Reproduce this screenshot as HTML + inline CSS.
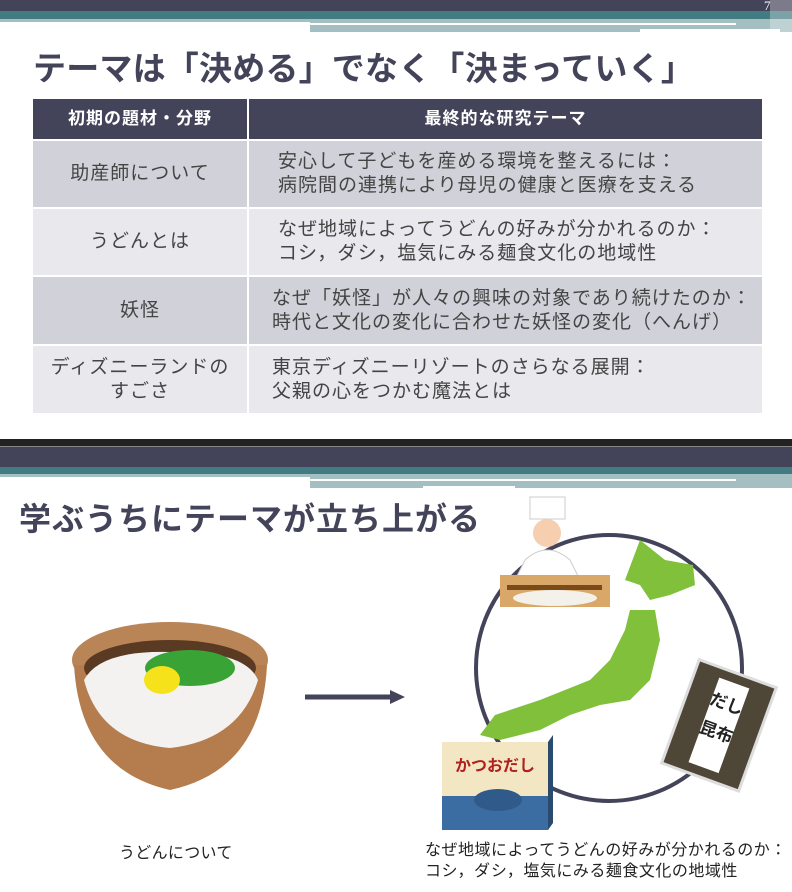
<!DOCTYPE html>
<html><head><meta charset="utf-8"><style>
body{margin:0;width:792px;height:892px;position:relative;overflow:hidden;background:#fff;font-family:"Liberation Sans","Noto Sans CJK JP",sans-serif;}
.a{position:absolute}
.t{color:#43435a;font-weight:bold;font-size:33px;letter-spacing:1px}
.c{position:absolute;display:flex;align-items:center;color:#444;font-size:19px;line-height:24px;letter-spacing:1px}
</style></head><body>
<!-- top header -->
<div class="a" style="left:0;top:0;width:792px;height:11px;background:#43435a"></div>
<div class="a" style="left:0;top:11px;width:792px;height:8px;background:#427b81"></div>
<div class="a" style="left:0;top:19px;width:792px;height:3px;background:#a3bfc2"></div>
<div class="a" style="left:310px;top:19px;width:482px;height:13px;background:#a3bfc2"></div>
<div class="a" style="left:310px;top:23px;width:426px;height:2px;background:#fff"></div>
<div class="a" style="left:640px;top:29px;width:140px;height:5px;background:#fff"></div>
<div class="a" style="left:770px;top:0;width:22px;height:32px;background:rgba(255,255,255,.3)"></div>
<div class="a" style="left:764px;top:-2px;color:#fff;font-family:'Liberation Serif',serif;font-size:13px">7</div>
<div class="a t" style="left:33px;top:42px;letter-spacing:0.2px">テーマは「決める」でなく「決まっていく」</div>
<!-- table -->
<div class="a" style="left:33px;top:99px;width:729px;height:40px;background:#43435a"></div>
<div class="c" style="left:33px;top:99px;width:214px;height:40px;justify-content:center;color:#fff;font-weight:bold;font-size:17px">初期の題材・分野</div>
<div class="c" style="left:249px;top:99px;width:513px;height:40px;justify-content:center;color:#fff;font-weight:bold;font-size:17px">最終的な研究テーマ</div>
<div class="a" style="left:33px;top:141px;width:729px;height:66px;background:#d1d1d9"></div>
<div class="a" style="left:33px;top:209px;width:729px;height:66px;background:#e8e8ed"></div>
<div class="a" style="left:33px;top:277px;width:729px;height:67px;background:#d1d1d9"></div>
<div class="a" style="left:33px;top:346px;width:729px;height:67px;background:#e8e8ed"></div>
<div class="a" style="left:247px;top:99px;width:2px;height:314px;background:#fff"></div>
<div class="c" style="left:33px;top:141px;width:214px;height:66px;justify-content:center">助産師について</div>
<div class="c" style="left:278px;top:141px;height:66px">安心して子どもを産める環境を整えるには：<br>病院間の連携により母児の健康と医療を支える</div>
<div class="c" style="left:33px;top:209px;width:214px;height:66px;justify-content:center">うどんとは</div>
<div class="c" style="left:278px;top:209px;height:66px">なぜ地域によってうどんの好みが分かれるのか：<br>コシ，ダシ，塩気にみる麺食文化の地域性</div>
<div class="c" style="left:33px;top:277px;width:214px;height:67px;justify-content:center">妖怪</div>
<div class="c" style="left:272px;top:277px;height:67px">なぜ「妖怪」が人々の興味の対象であり続けたのか：<br>時代と文化の変化に合わせた妖怪の変化（へんげ）</div>
<div class="c" style="left:33px;top:346px;width:214px;height:67px;justify-content:center;text-align:center">ディズニーランドの<br>すごさ</div>
<div class="c" style="left:272px;top:346px;height:67px">東京ディズニーリゾートのさらなる展開：<br>父親の心をつかむ魔法とは</div>
<!-- second slide -->
<div class="a" style="left:0;top:439px;width:792px;height:7px;background:#222"></div>
<div class="a" style="left:0;top:446px;width:792px;height:1px;background:#888"></div>
<div class="a" style="left:0;top:447px;width:792px;height:20px;background:#43435a"></div>
<div class="a" style="left:0;top:467px;width:792px;height:7px;background:#427b81"></div>
<div class="a" style="left:0;top:474px;width:792px;height:3px;background:#a3bfc2"></div>
<div class="a" style="left:310px;top:474px;width:482px;height:14px;background:#a3bfc2"></div>
<div class="a" style="left:310px;top:479px;width:426px;height:2px;background:#fff"></div>
<div class="a" style="left:423px;top:486px;width:92px;height:5px;background:#fff"></div>
<div class="a t" style="left:19px;top:494px;font-size:32px">学ぶうちにテーマが立ち上がる</div>
<svg class="a" style="left:0;top:0" width="792" height="892">
<circle cx="609" cy="668" r="133" fill="none" stroke="#43435a" stroke-width="4"/>
<path d="M640 540 L665 560 L693 565 L695 585 L670 595 L650 600 L640 585 L625 580 Z" fill="#80c03a"/>
<path d="M630 610 L655 610 L660 640 L650 680 L630 700 L600 705 L570 715 L540 730 L500 740 L480 735 L495 715 L540 700 L590 680 L610 660 L625 630 Z" fill="#80c03a"/>
<rect x="530" y="497" width="35" height="22" fill="#fff" stroke="#ccc"/>
<circle cx="547" cy="533" r="14" fill="#f6cfb0"/>
<path d="M525 560 Q547 540 570 560 L580 580 L515 580 Z" fill="#fff" stroke="#ccc"/>
<rect x="500" y="575" width="110" height="32" fill="#d9a868"/>
<ellipse cx="555" cy="598" rx="42" ry="8" fill="#f4f0ea"/>
<rect x="507" y="585" width="95" height="5" fill="#7a4a1a"/>
<g transform="rotate(20 718 725)">
<rect x="678" y="670" width="82" height="110" fill="#4e4636" stroke="#ddd" stroke-width="3"/>
<rect x="703" y="680" width="32" height="90" fill="#fff"/>
<text x="719" y="708" font-size="17" font-weight="bold" text-anchor="middle" fill="#222" font-family="Noto Sans CJK JP">だし</text>
<text x="719" y="738" font-size="17" font-weight="bold" text-anchor="middle" fill="#222" font-family="Noto Sans CJK JP">昆布</text>
</g>
<path d="M442 742 L548 742 L553 735 L553 823 L548 830 L442 830 Z" fill="#2a4a6e"/>
<rect x="442" y="742" width="106" height="88" fill="#f3e6c2"/>
<rect x="442" y="796" width="106" height="34" fill="#3b6da3"/>
<text x="495" y="771" font-size="16" font-weight="bold" text-anchor="middle" fill="#b02020" font-family="Noto Sans CJK JP">かつおだし</text>
<ellipse cx="498" cy="800" rx="24" ry="11" fill="#2f5a8a"/>
<ellipse cx="170" cy="660" rx="98" ry="38" fill="#b98456"/>
<path d="M74 665 Q80 770 170 790 Q262 770 267 665 Z" fill="#b57d4e"/>
<ellipse cx="170" cy="668" rx="86" ry="28" fill="#5a3a22"/>
<path d="M84 680 Q100 650 170 652 Q245 650 258 680 Q240 740 170 748 Q100 742 84 680 Z" fill="#f4f2f0"/>
<ellipse cx="190" cy="668" rx="45" ry="18" fill="#3aa336"/>
<ellipse cx="162" cy="680" rx="18" ry="14" fill="#f5e21a"/>
<line x1="305" y1="697" x2="392" y2="697" stroke="#43435a" stroke-width="5"/>
<polygon points="390,690 405,697 390,704" fill="#43435a"/>
</svg>
<div class="a" style="left:119px;top:839px;font-size:16px;letter-spacing:.3px;color:#222">うどんについて</div>
<div class="a" style="left:425px;top:840px;font-size:16px;letter-spacing:.5px;color:#222;line-height:21px">なぜ地域によってうどんの好みが分かれるのか：<br>コシ，ダシ，塩気にみる麺食文化の地域性</div>
</body></html>
